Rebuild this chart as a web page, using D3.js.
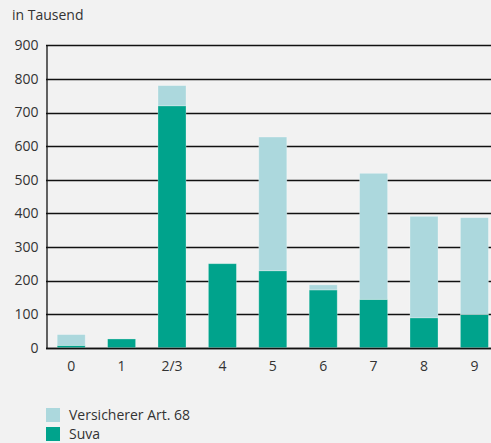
<!DOCTYPE html>
<html>
<head>
<meta charset="utf-8">
<script src="https://cdn.jsdelivr.net/npm/d3@7"></script>
<style>
  html, body { margin: 0; padding: 0; background: #f2f2f2; }
  svg { display: block; font-family: "Open Sans", sans-serif; }
  text { fill: #333; }
</style>
</head>
<body>
<svg id="chart" width="491" height="443"></svg>
<script>
const categories = ["0", "1", "2/3", "4", "5", "6", "7", "8", "9"]
const suva = [7, 26, 720, 250, 229, 172, 144, 89, 99]
const versicherer = [32, 0, 60, 0, 398, 15, 375, 302, 288]
const yTicks = [0, 100, 200, 300, 400, 500, 600, 700, 800, 900]

const COLOR_SUVA = "#00a38c"
const COLOR_VERS = "#acd8dd"

const svg = d3.select("#chart")
const plotLeft = 46, plotRight = 499.6, plotTop = 45.3, plotBottom = 347.7

const x = d3.scaleBand().domain(categories).range([plotLeft, plotRight]).paddingInner(0.444).paddingOuter(0.222)
const y = d3.scaleLinear().domain([0, 900]).range([plotBottom, plotTop])

// gridlines
svg.append("g")
    .selectAll("line")
    .data(yTicks)
    .enter()
    .append("line")
    .attr("x1", plotLeft)
    .attr("x2", 491)
    .attr("y1", d => Math.round(y(d)) + 0.5)
    .attr("y2", d => Math.round(y(d)) + 0.5)
    .attr("stroke", "#111")
    .attr("stroke-width", 1.3)

// y axis
const yAxis = svg.append("g")
    .attr("transform", `translate(${plotLeft + 0.5},0)`)
    .call(d3.axisLeft(y).tickValues(yTicks).tickSize(0).tickPadding(8))
yAxis.select(".domain").attr("stroke", "#111").attr("stroke-width", 1.3)
yAxis.selectAll("text").attr("font-size", 14).attr("fill", "#333").style("font-family", "Open Sans")

// stacked data
const rows = categories.map((c, i) => ({cat: c, suva: suva[i], vers: versicherer[i]}))
const stack = d3.stack().keys(["suva", "vers"])(rows)
const colors = {suva: COLOR_SUVA, vers: COLOR_VERS}

svg.append("g")
    .selectAll("g")
    .data(stack)
    .enter()
    .append("g")
    .attr("fill", s => colors[s.key])
    .selectAll("rect")
    .data(s => s.filter(d => d[1] > d[0]))
    .enter()
    .append("rect")
    .attr("x", d => x(d.data.cat))
    .attr("width", x.bandwidth())
    .attr("y", d => y(d[1]))
    .attr("height", d => y(d[0]) - y(d[1]))
    .attr("stroke", "rgba(255,255,255,0.35)")
    .attr("stroke-width", 0.8)

// baseline redraw on top
svg.append("line")
    .attr("x1", plotLeft).attr("x2", 491)
    .attr("y1", Math.round(y(0)) + 0.5).attr("y2", Math.round(y(0)) + 0.5)
    .attr("stroke", "#111").attr("stroke-width", 1.3)

// x axis labels
const xAxis = svg.append("g")
    .attr("transform", `translate(0,${plotBottom})`)
    .call(d3.axisBottom(x).tickSize(0).tickPadding(13))
xAxis.select(".domain").remove()
xAxis.selectAll("text").attr("font-size", 14).attr("fill", "#333").style("font-family", "Open Sans")

// unit label
svg.append("text")
    .attr("x", 12)
    .attr("y", 20)
    .attr("font-size", 14)
    .text("in Tausend")

// legend
const legend = [
    {label: "Versicherer Art. 68", color: COLOR_VERS},
    {label: "Suva", color: COLOR_SUVA}
]
const lg = svg.append("g").selectAll("g")
    .data(legend)
    .enter()
    .append("g")
    .attr("transform", (d, i) => `translate(46,${408 + i * 19})`)
lg.append("rect").attr("width", 14).attr("height", 14).attr("fill", d => d.color)
lg.append("text").attr("x", 23).attr("y", 12).attr("font-size", 14).text(d => d.label)
</script>
</body>
</html>
